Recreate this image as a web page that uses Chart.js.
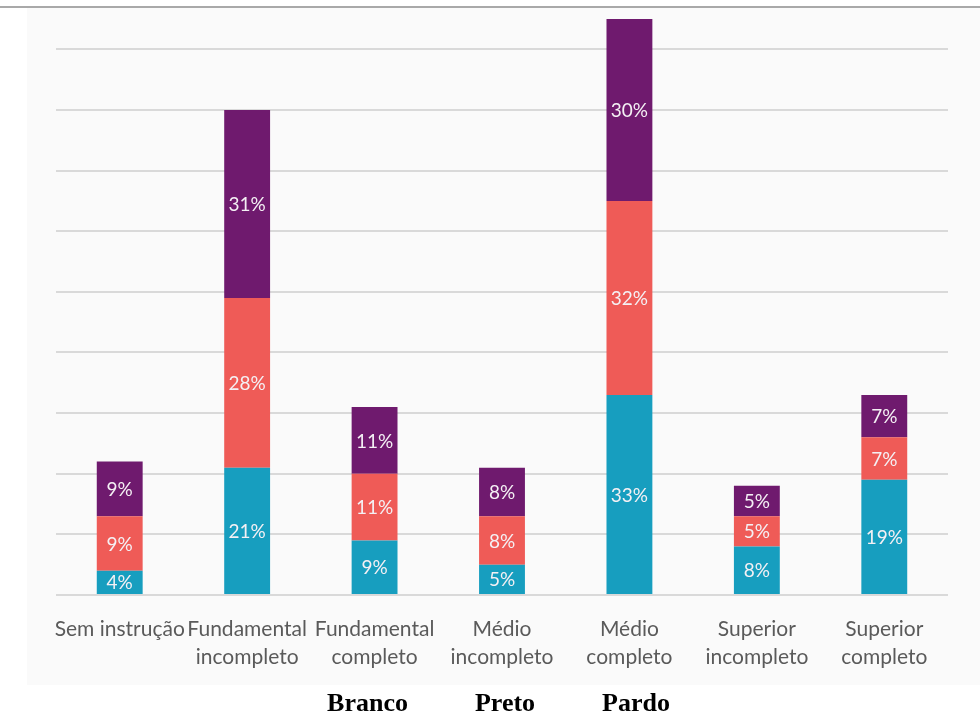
<!DOCTYPE html>
<html>
<head>
<meta charset="utf-8">
<title>Escolaridade por cor</title>
<script src="https://cdn.jsdelivr.net/npm/chart.js@4/dist/chart.umd.min.js"></script>
<style>
    body { margin: 0; background: #ffffff; }
    .wrap { position: relative; width: 980px; height: 718px; }
    /* scanned-image look: thin rule at top and a faint grey panel behind the plot */
    .panel {
        position: absolute; left: 27px; top: 8px; width: 953px; height: 677px;
        background: #fafafa;
    }
    .rule { position: absolute; left: 0; top: 6px; width: 980px; height: 2px; background: #a9a9a9; }
    canvas { position: absolute; left: 0; top: 0; }
</style>
</head>
<body>
<div class="wrap">
    <div class="panel"></div>
    <div class="rule"></div>
    <canvas id="eduChart" width="980" height="718"></canvas>
</div>

<script>
// Categories (x axis)
const categories = [
    'Sem instrução',
    ['Fundamental', 'incompleto'],
    ['Fundamental', 'completo'],
    ['Médio', 'incompleto'],
    ['Médio', 'completo'],
    ['Superior', 'incompleto'],
    ['Superior', 'completo']
];

// Shares (%) per group
const branco = [4, 21, 9, 5, 33, 8, 19];
const preto  = [9, 28, 11, 8, 32, 5, 7];
const pardo  = [9, 31, 11, 8, 30, 5, 7];

const seriesNames = ['Branco', 'Preto', 'Pardo'];

// y range and gridline step
const yMax = 95;
const yStep = 10;

// writes the value in the middle of each stacked segment
const segmentLabels = {
    id: 'segmentLabels',
    afterDatasetsDraw(chart) {
        const ctx = chart.ctx;
        ctx.save();
        ctx.font = '19px Lato, "Open Sans", sans-serif';
        ctx.fillStyle = '#f4f0f4';
        ctx.textAlign = 'center';
        ctx.textBaseline = 'middle';
        chart.data.datasets.forEach((ds, i) => {
            const meta = chart.getDatasetMeta(i);
            meta.data.forEach((bar, j) => {
                const p = bar.getCenterPoint();
                ctx.fillText(ds.data[j] + '%', p.x, p.y + 1);
            });
        });
        ctx.restore();
    }
};

const colors = ['#179ebf', '#ef5b57', '#6f1a6e'];

new Chart(document.getElementById('eduChart'), {
    type: 'bar',
    data: {
        labels: categories,
        datasets: [
            { label: seriesNames[0], data: branco, backgroundColor: colors[0] },
            { label: seriesNames[1], data: preto,  backgroundColor: colors[1] },
            { label: seriesNames[2], data: pardo,  backgroundColor: colors[2] }
        ]
    },
    options: {
        responsive: false,
        animation: false,
        categoryPercentage: 1,
        barPercentage: 0.36,
        layout: { padding: { left: 0, right: 32, top: 19, bottom: -9 } },
        plugins: {
            tooltip: { enabled: false },
            legend: {
                position: 'bottom',
                labels: {
                    boxWidth: 36,
                    padding: 18,
                    color: '#000000',
                    font: { family: '"Liberation Serif", "Times New Roman", serif', size: 26, weight: 'bold' },
                    generateLabels: (chart) => chart.data.datasets.map((ds, i) => ({
                        text: ds.label,
                        fillStyle: 'rgba(0,0,0,0)',
                        strokeStyle: 'rgba(0,0,0,0)',
                        lineWidth: 0,
                        datasetIndex: i
                    }))
                }
            }
        },
        scales: {
            x: {
                stacked: true,
                grid: { display: false, drawTicks: false },
                border: { display: false },
                afterFit: (scale) => { scale.height = 78; },
                ticks: {
                    autoSkip: false,
                    maxRotation: 0,
                    minRotation: 0,
                    padding: 20,
                    color: '#5a5a5a',
                    font: { family: 'Lato, "Open Sans", sans-serif', size: 21, lineHeight: 1.33 }
                }
            },
            y: {
                stacked: true,
                min: 0,
                max: yMax,
                afterFit: (scale) => { scale.width = 56; },
                afterBuildTicks: (scale) => {
                    scale.ticks = scale.ticks.filter(t => t.value % yStep === 0);
                },
                ticks: { display: false, stepSize: yStep },
                grid: { color: '#d9d9d9', lineWidth: 2, drawTicks: false },
                border: { display: false }
            }
        }
    },
    plugins: [segmentLabels]
});
</script>
</body>
</html>
